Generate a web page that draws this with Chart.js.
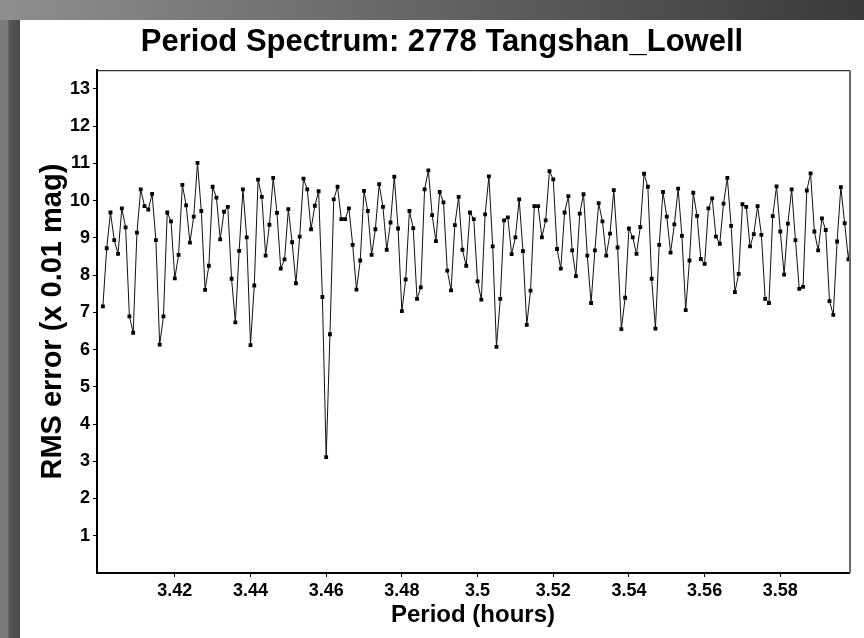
<!DOCTYPE html>
<html><head><meta charset="utf-8">
<script src="https://cdn.jsdelivr.net/npm/chart.js@4/dist/chart.umd.min.js"></script>
<style>
html,body{margin:0;padding:0;}
body{width:864px;height:638px;overflow:hidden;position:relative;background:linear-gradient(to right,#8e8e8e,#3a3a3a);}
#strip{position:absolute;left:0;top:20px;width:20px;height:618px;background:linear-gradient(to right,#7c7c7c 0,#7a7a7a 8px,#555 9px,#4a4a4a 20px);}
#panel{position:absolute;left:20px;top:20px;width:844px;height:618px;background:#fff;}
canvas{display:block;}
</style></head>
<body><div id="strip"></div><div id="panel"><canvas id="c" width="844" height="618"></canvas></div>
<script>
const titleText = 'Period Spectrum: 2778 Tangshan_Lowell';
const xTitle = 'Period (hours)';
const yTitle = 'RMS error (x 0.01 mag)';

const periods = [
 3.401,3.402,3.403,3.404,3.405,3.406,3.407,3.408,3.409,3.410,
 3.411,3.412,3.413,3.414,3.415,3.416,3.417,3.418,3.419,3.420,
 3.421,3.422,3.423,3.424,3.425,3.426,3.427,3.428,3.429,3.430,
 3.431,3.432,3.433,3.434,3.435,3.436,3.437,3.438,3.439,3.440,
 3.441,3.442,3.443,3.444,3.445,3.446,3.447,3.448,3.449,3.450,
 3.451,3.452,3.453,3.454,3.455,3.456,3.457,3.458,3.459,3.460,
 3.461,3.462,3.463,3.464,3.465,3.466,3.467,3.468,3.469,3.470,
 3.471,3.472,3.473,3.474,3.475,3.476,3.477,3.478,3.479,3.480,
 3.481,3.482,3.483,3.484,3.485,3.486,3.487,3.488,3.489,3.490,
 3.491,3.492,3.493,3.494,3.495,3.496,3.497,3.498,3.499,3.500,
 3.501,3.502,3.503,3.504,3.505,3.506,3.507,3.508,3.509,3.510,
 3.511,3.512,3.513,3.514,3.515,3.516,3.517,3.518,3.519,3.520,
 3.521,3.522,3.523,3.524,3.525,3.526,3.527,3.528,3.529,3.530,
 3.531,3.532,3.533,3.534,3.535,3.536,3.537,3.538,3.539,3.540,
 3.541,3.542,3.543,3.544,3.545,3.546,3.547,3.548,3.549,3.550,
 3.551,3.552,3.553,3.554,3.555,3.556,3.557,3.558,3.559,3.560,
 3.561,3.562,3.563,3.564,3.565,3.566,3.567,3.568,3.569,3.570,
 3.571,3.572,3.573,3.574,3.575,3.576,3.577,3.578,3.579,3.580,
 3.581,3.582,3.583,3.584,3.585,3.586,3.587,3.588,3.589,3.590,
 3.591,3.592,3.593,3.594,3.595,3.596,3.597,3.598,3.599
];

const rmsValues = [
 7.16,8.72,9.68,8.94,8.57,9.79,9.28,6.89,6.45,9.14,
 10.30,9.85,9.76,10.18,8.94,6.13,6.89,9.68,9.44,7.91,
 8.54,10.42,9.87,8.87,9.57,11.01,9.72,7.60,8.25,10.37,
 10.08,8.96,9.70,9.83,7.90,6.73,8.65,10.30,9.01,6.12,
 7.72,10.56,10.10,8.52,9.35,10.61,9.67,8.17,8.42,9.77,
 8.88,7.78,9.03,10.59,10.30,9.23,9.86,10.25,7.41,3.11,
 6.41,10.03,10.37,9.50,9.50,9.79,8.81,7.61,8.39,10.26,
 9.72,8.54,9.23,10.44,9.83,8.68,9.41,10.64,9.25,7.03,
 7.88,9.72,9.26,7.36,7.67,10.30,10.81,9.61,8.91,10.23,
 9.95,8.12,7.59,9.34,10.10,8.68,8.25,9.68,9.50,7.83,
 7.34,9.63,10.65,8.77,6.07,7.36,9.47,9.55,8.56,9.01,
 10.03,8.64,6.66,7.58,9.85,9.85,9.01,9.47,10.79,10.57,
 8.70,8.17,9.68,10.12,8.66,7.97,9.65,10.17,8.52,7.25,
 8.66,9.93,9.44,8.52,9.11,10.28,8.74,6.55,7.39,9.25,
 9.01,8.57,9.29,10.72,10.37,7.90,6.56,8.81,10.23,9.57,
 8.60,9.36,10.32,9.05,7.06,8.39,10.21,9.59,8.43,8.30,
 9.79,10.06,9.03,8.84,9.92,10.61,9.32,7.54,8.03,9.90,
 9.83,8.77,9.10,9.85,9.08,7.36,7.25,9.58,10.38,9.17,
 8.01,9.38,10.30,8.94,7.63,7.68,10.27,10.73,9.17,8.66,
 9.52,9.21,7.30,6.93,8.90,10.36,9.39,8.42,9.40
];

const xTicks = [3.42,3.44,3.46,3.48,3.50,3.52,3.54,3.56,3.58];
const xTickLabels = ['3.42','3.44','3.46','3.48','3.5','3.52','3.54','3.56','3.58'];
const yTicks = [1,2,3,4,5,6,7,8,9,10,11,12,13];
const yTickLabels = ['1','2','3','4','5','6','7','8','9','10','11','12','13'];

const FONT = "'Liberation Sans', Arial, Helvetica, sans-serif";

const frame = {
  id: 'frame',
  afterDatasetsDraw(chart) {
    const {ctx, chartArea: a} = chart;
    ctx.save();
    ctx.strokeStyle = '#000';
    ctx.lineWidth = 1;
    ctx.beginPath();
    ctx.moveTo(a.left, a.top + 0.5);
    ctx.lineTo(a.right + 1, a.top + 0.5);
    ctx.stroke();
    ctx.strokeStyle = '#6a6a6a';
    ctx.lineWidth = 2;
    ctx.beginPath();
    ctx.moveTo(a.right + 1, a.top);
    ctx.lineTo(a.right + 1, a.bottom);
    ctx.stroke();
    ctx.restore();
  }
};

new Chart(document.getElementById('c'), {
  type: 'line',
  data: {
    datasets: [{
      data: periods.map((p, i) => ({x: p, y: rmsValues[i]})),
      borderColor: '#111',
      borderWidth: 1,
      tension: 0,
      pointStyle: 'rect',
      pointRadius: 2.7,
      pointBackgroundColor: '#000',
      pointBorderWidth: 0,
      fill: false
    }]
  },
  options: {
    responsive: false,
    animation: false,
    devicePixelRatio: 1,
    layout: {padding: {left: 0, right: 0, top: 0, bottom: 0}},
    plugins: {
      legend: {display: false},
      tooltip: {enabled: false},
      title: {
        display: true,
        text: titleText,
        color: '#000',
        font: {family: FONT, size: 31, weight: 'bold'},
        padding: {top: 4, bottom: 9}
      }
    },
    scales: {
      x: {
        type: 'linear',
        min: 3.39944,
        max: 3.59815,
        afterFit: s => { s.height = 65; },
        afterBuildTicks: s => { s.ticks = xTicks.map(v => ({value: v})); },
        border: {display: true, color: '#000', width: 2},
        grid: {drawOnChartArea: false, drawTicks: true, tickLength: 4, color: '#000'},
        ticks: {
          color: '#000', padding: 3, maxRotation: 0, autoSkip: false,
          font: {family: FONT, size: 18, weight: 'bold'},
          callback: (v, i) => xTickLabels[i]
        },
        title: {
          display: true, text: xTitle, color: '#000',
          font: {family: FONT, size: 24, weight: 'bold'},
          padding: {top: 0, bottom: 8}
        }
      },
      y: {
        type: 'linear',
        min: 0,
        max: 13.5,
        afterFit: s => { s.width = 77; },
        afterBuildTicks: s => { s.ticks = yTicks.map(v => ({value: v})); },
        border: {display: true, color: '#000', width: 2},
        grid: {drawOnChartArea: false, drawTicks: true, tickLength: 4, color: '#000'},
        ticks: {
          color: '#000', padding: 3, autoSkip: false,
          font: {family: FONT, size: 18, weight: 'bold'},
          callback: (v, i) => yTickLabels[i]
        },
        title: {
          display: true, text: yTitle, color: '#000',
          font: {family: FONT, size: 29, weight: 'bold'},
          padding: {top: 16, bottom: 0}
        }
      },
      yr: {
        type: 'linear',
        position: 'right',
        min: 0,
        max: 13.5,
        afterFit: s => { s.width = 15; },
        border: {display: false},
        grid: {display: false},
        ticks: {display: false}
      }
    }
  },
  plugins: [frame]
});
</script></body></html>
